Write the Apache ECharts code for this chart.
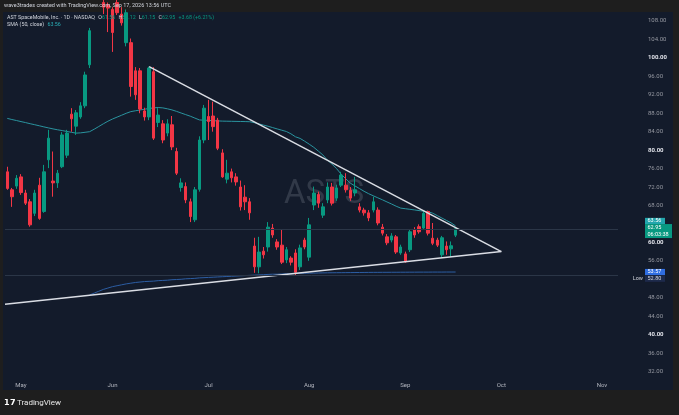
<!DOCTYPE html>
<html><head><meta charset="utf-8">
<script src="https://cdn.jsdelivr.net/npm/echarts@6/dist/echarts.min.js"></script>
<style>html,body{margin:0;padding:0;background:#1e1e1e;}#c{width:679px;height:415px;}</style>
</head><body><div id="c"></div>
<script>
// ---- data ----
const dates = ['04-28','04-29','04-30',
'05-01','05-04','05-05','05-06','05-07','05-08','05-11','05-12','05-13','05-14','05-15','05-18','05-19','05-20','05-21','05-22','05-26','05-27','05-28','05-29',
'06-01','06-02','06-03','06-04','06-05','06-08','06-09','06-10','06-11','06-12','06-15','06-16','06-17','06-18','06-22','06-23','06-24','06-25','06-26','06-29','06-30',
'07-01','07-02','07-06','07-07','07-08','07-09','07-10','07-13','07-14','07-15','07-16','07-17','07-20','07-21','07-22','07-23','07-24','07-27','07-28','07-29','07-30','07-31',
'08-03','08-04','08-05','08-06','08-07','08-10','08-11','08-12','08-13','08-14','08-17','08-18','08-19','08-20','08-21','08-24','08-25','08-26','08-27','08-28','08-31',
'09-01','09-02','09-03','09-04','09-08','09-09','09-10','09-11','09-14','09-15','09-16','09-17','09-18','09-21','09-22','09-23','09-24','09-25','09-28','09-29','09-30',
'10-01','10-02','10-05','10-06','10-07','10-08','10-09','10-12','10-13','10-14','10-15','10-16','10-19','10-20','10-21','10-22','10-23','10-26','10-27','10-28','10-29','10-30',
'11-02','11-03','11-04','11-05'];
const monthNames = ['Jan','Feb','Mar','Apr','May','Jun','Jul','Aug','Sep','Oct','Nov','Dec'];

const opens = [75.3,71.4,72.2,74.2,70.7,68.8,66.3,72.4,66.7,77.9, 73.3,72.9,76.4,78.9,87.8,85.2,87.2,89.6,98.5,111.0, 113.5,112.0,111.5,110.5,112.0,109.5,103.3,103.3,97.2,97.2, 88.5,87.2,97.0,86.0,85.7,83.7,85.5,79.7,71.9,72.1, 68.8,64.9,71.5,82.2,87.3,87.4,86.5,79.4,73.7,75.3, 74.2,72.0,69.8,68.8,59.2,54.7,58.1,59.0,63.1,60.1, 59.4,56.2,56.6,57.7,54.7,60.5,56.8,68.1,70.4,65.9, 69.2,72.0,69.6,72.4,72.4,71.3,70.7,67.7,67.0,66.4, 67.0,67.0,63.3,61.2,60.5,61.2,57.7,57.5,58.4,62.7, 63.4,63.1,66.7,60.9,60.5,57.3,59.2,58.6,61.56];
const highs = [76.4,71.8,74.6,74.8,71.4,69.4,71.4,74.0,76.8,84.4, 79.7,75.7,83.9,84.4,89.1,88.7,90.4,97.0,106.5,115.0, 116.0,114.0,112.0,111.0,113.0,111.0,110.5,104.2,98.0,97.8, 89.2,98.1,98.0,89.1,86.5,86.7,87.4,80.5,73.9,73.0, 69.5,72.0,83.0,89.8,90.9,90.5,87.0,80.2,77.9,76.0, 75.0,73.4,72.4,69.6,61.0,61.2,59.0,64.4,64.0,60.7, 62.7,59.0,57.0,58.5,59.5,61.0,65.3,72.1,71.0,68.5, 73.0,72.9,72.5,75.3,75.0,72.0,74.2,68.5,67.5,67.0, 69.9,67.6,64.0,61.8,62.0,61.6,59.5,58.0,62.8,63.3, 63.9,66.8,66.9,64.2,61.0,61.4,60.2,60.2,63.12];
const lows = [71.4,67.7,71.6,70.3,68.1,63.4,65.7,64.9,66.4,76.1, 69.9,71.8,76.1,78.3,84.0,83.3,86.8,89.1,97.8,110.5, 111.0,109.5,105.6,101.3,109.3,107.0,102.5,91.6,90.9,88.0, 86.4,86.5,82.2,85.0,81.5,83.0,80.0,74.6,71.0,68.5, 64.4,64.4,71.0,81.5,82.2,84.0,80.0,74.0,72.8,73.0, 72.3,66.9,67.0,64.9,53.4,53.3,56.5,58.0,61.0,58.4, 55.3,55.5,55.0,52.8,54.0,58.5,56.0,67.0,67.5,65.3, 68.5,68.0,69.0,72.0,70.8,69.0,70.0,66.5,65.8,64.6, 66.5,63.7,61.5,59.4,60.0,57.5,57.3,55.6,57.9,61.0, 61.9,62.7,61.5,59.4,59.0,56.8,57.3,56.9,61.15];
const closes = [71.7,69.9,73.9,70.8,68.5,63.8,70.7,65.2,75.3,82.6, 72.9,75.0,83.3,83.7,86.8,88.1,89.6,96.3,105.9,113.5, 112.0,111.0,110.8,105.5,109.8,107.6,109.8,93.8,92.0,88.9, 87.2,97.8,82.6,87.6,82.2,85.7,80.7,75.0,72.9,69.2, 65.6,71.4,82.2,89.1,86.2,85.1,80.4,74.2,75.0,74.0, 73.1,67.7,68.8,66.4,54.7,57.9,57.3,63.3,61.6,59.0, 55.7,58.4,55.7,53.5,58.8,59.0,63.8,70.7,68.5,67.7, 72.0,68.5,71.8,74.6,71.4,69.6,71.4,67.0,66.4,65.3, 68.8,64.2,62.0,59.9,61.4,57.9,59.0,55.8,62.3,61.6, 62.3,66.3,62.0,59.8,59.4,61.0,58.4,59.27,62.95];

const sma50 = [86.88,86.64,86.42,86.19,85.97,85.73,85.51,85.28,85.04,84.82, 84.60,84.41,84.24,84.06,83.87,83.69,83.74,83.87,84.00,84.54, 85.12,85.71,86.27,86.75,87.16,87.57,87.99,88.35,88.53,88.70, 88.87,89.03,89.16,89.24,89.16,88.96,88.72,88.40,88.05,87.70, 87.36,86.95,86.55,86.49,86.45,86.38,86.34,86.29,86.27,86.25, 86.23,86.21,86.19,86.16,85.95,85.69,85.43,85.18,84.89,84.60, 84.32,84.04,83.54,82.89,82.54,81.94,81.29,80.61,79.79,78.94, 77.82,76.94,75.97,74.76,73.78,72.83,72.24,71.66,71.07,70.55, 70.10,69.66,69.23,68.77,68.32,67.84,67.43,67.30,67.17,67.04, 66.89,66.76,66.63,66.33,65.80,65.28,64.76,64.24,63.56];
const sma200Start = 18;
const sma200 = [48.6,49.0,49.4,49.8,50.1,50.4,50.6,50.8,51.0,51.15, 51.3,51.4,51.5,51.55,51.6,51.7,51.75,51.8,51.9,51.95, 52.0,52.1,52.15,52.2,52.3,52.35,52.4,52.45,52.5,52.55, 52.6,52.65,52.7,52.75,52.8,52.85,52.9,52.95,53.0,53.05, 53.1,53.1,53.15,53.2,53.2,53.25,53.3,53.3,53.32,53.34, 53.36,53.38,53.4,53.41,53.42,53.43,53.44,53.45,53.46,53.47, 53.48,53.49,53.5,53.5,53.51,53.51,53.52,53.52,53.53,53.53, 53.54,53.54,53.55,53.55,53.55,53.56,53.56,53.56,53.57,53.57, 53.57];

// trend lines: [bar index, price]
const upperTrend = [[31, 98.1], [108, 58.0]];
const lowerTrend = [[-0.5, 46.6], [108, 58.0]];

const priceTicks = [108,104,100,96,92,88,84,80,76,72,68,60,56,48,44,40,36,32];
const lastClose = 62.95, smaLast = 63.56, sma200Last = 53.57, lowVisible = 52.80;
const countdown = '06:03:38';

// ---- chart ----
const UP = '#089981', DOWN = '#f23645';
const chart = echarts.init(document.getElementById('c'));
const candleData = opens.map((o, i) => [o, closes[i], lows[i], highs[i]]);
const sma200Data = dates.map((d, i) => (i >= sma200Start && i - sma200Start < sma200.length) ? sma200[i - sma200Start] : null);
const FONT = 'Roboto';

const option = {
  animation: false,
  backgroundColor: '#1e1e1e',
  grid: { left: 5, right: 61, top: 12, bottom: 38, containLabel: false },
  xAxis: [{
    type: 'category', data: dates, boundaryGap: true,
    axisLine: { show: false }, axisTick: { show: false }, splitLine: { show: false },
    axisLabel: {
      interval: (i) => i > 0 && dates[i].slice(0, 2) !== dates[i - 1].slice(0, 2),
      formatter: (v) => monthNames[parseInt(v.slice(0, 2), 10) - 1],
      color: '#b2b5be', fontSize: 6, fontFamily: FONT, margin: 5
    }
  }, {
    type: 'value', min: -0.5, max: dates.length - 0.5, show: false
  }],
  yAxis: [{
    type: 'value', position: 'right', min: 30.81, max: 109.95, scale: true,
    axisLine: { show: false }, axisTick: { show: false }, splitLine: { show: false },
    axisLabel: {
      customValues: priceTicks, margin: 30, fontSize: 6, fontFamily: FONT, color: '#9598a1',
      formatter: (v) => (v % 20 === 0 ? '{b|' + v.toFixed(2) + '}' : v.toFixed(2)),
      rich: { b: { fontWeight: 'bold', color: '#e1e3ea', fontSize: 6, fontFamily: FONT } }
    }
  }],
  series: [
    {
      type: 'line', data: sma200Data, showSymbol: false, z: 2,
      lineStyle: { color: '#2c5da3', width: 1 }, silent: true
    },
    {
      type: 'line', data: sma50, showSymbol: false, z: 2,
      lineStyle: { color: '#2a949f', width: 1 }, silent: true
    },
    {
      type: 'candlestick', data: candleData, barWidth: 3, clip: true, z: 3,
      itemStyle: { color: UP, color0: DOWN, borderColor: UP, borderColor0: DOWN, borderWidth: 1 },
      markLine: {
        symbol: 'none', silent: true, label: { show: false },
        lineStyle: { color: '#2b3647', type: 'solid', width: 1 },
        data: [{ yAxis: lastClose }, { yAxis: lowVisible }]
      }
    },
    {
      type: 'line', xAxisIndex: 1, data: upperTrend, showSymbol: false, z: 4,
      lineStyle: { color: '#dadde4', width: 1.5 }, silent: true
    },
    {
      type: 'line', xAxisIndex: 1, data: lowerTrend, showSymbol: false, z: 4,
      lineStyle: { color: '#dadde4', width: 1.5 }, silent: true
    }
  ]
};
chart.setOption(option);

const yp = (v) => chart.convertToPixel({ yAxisIndex: 0 }, v);
const bx = 645, bw = 20, bh = 6.2;
const tealC = yp(smaLast) - 5;
const greenTop = tealC + bh / 2;
const blueC = yp(sma200Last);
const lowTop = Math.max(yp(lowVisible) - bh / 2, blueC + bh / 2 + 0.5);
function tx(x, y, text, fill, size, align, weight) {
  return { type: 'text', x: x, y: y, z: 10, silent: true,
    style: { text: text, fill: fill, font: (weight || 'normal') + ' ' + size + 'px ' + FONT,
      align: align || 'left', verticalAlign: 'middle', textAlign: align || 'left', textVerticalAlign: 'middle' } };
}
chart.setOption({
  graphic: [
    { type: 'rect', shape: { x: 3, y: 12, width: 670, height: 378 }, style: { fill: '#131b2b' }, z: -10, silent: true },
    tx(4, 6, 'wave3trades created with TradingView.com, Sep 17, 2026 13:56 UTC', '#d1d4dc', 5.5),
    { type: 'text', x: 7, y: 17.5, z: 10, silent: true, style: {
      text: '{t|AST SpaceMobile, Inc. · 1D · NASDAQ} {t|O}{g|61.56} {t|H}{g|63.12} {t|L}{g|61.15} {t|C}{g|' + lastClose.toFixed(2) + '} {g|+3.68 (+6.21%)}',
      verticalAlign: 'middle', textVerticalAlign: 'middle',
      rich: { t: { fill: '#d1d4dc', fontSize: 5.3, fontFamily: FONT }, g: { fill: UP, fontSize: 5.3, fontFamily: FONT } } } },
    { type: 'text', x: 7, y: 24.5, z: 10, silent: true, style: {
      text: '{t|SMA (50, close)} {c|' + smaLast.toFixed(2) + '}',
      verticalAlign: 'middle', textVerticalAlign: 'middle',
      rich: { t: { fill: '#d1d4dc', fontSize: 5.3, fontFamily: FONT }, c: { fill: '#2ab0b8', fontSize: 5.3, fontFamily: FONT } } } },
    { type: 'text', x: 324, y: 195, z: 0, silent: true, style: { text: 'ASTS', fill: 'rgba(140,146,158,0.25)', font: '33px ' + FONT,
      align: 'center', verticalAlign: 'middle', textAlign: 'center', textVerticalAlign: 'middle' } },
    // price labels
    { type: 'rect', z: 10, silent: true, shape: { x: bx, y: tealC - bh / 2, width: bw, height: bh }, style: { fill: '#22a6ad' } },
    tx(bx + 2.5, tealC, smaLast.toFixed(2), '#ffffff', 5.5),
    { type: 'rect', z: 10, silent: true, shape: { x: bx, y: greenTop, width: 27, height: 14 }, style: { fill: UP } },
    tx(bx + 2.5, greenTop + 4, lastClose.toFixed(2), '#ffffff', 5.5),
    tx(bx + 2.5, greenTop + 10.5, countdown, '#ffffff', 5.5),
    { type: 'rect', z: 10, silent: true, shape: { x: bx, y: blueC - bh / 2, width: bw, height: bh }, style: { fill: '#2f6de0' } },
    tx(bx + 2.5, blueC, sma200Last.toFixed(2), '#ffffff', 5.5),
    { type: 'rect', z: 10, silent: true, shape: { x: bx, y: lowTop, width: bw, height: bh }, style: { fill: '#1d2a4b' } },
    tx(bx + 2.5, lowTop + bh / 2, lowVisible.toFixed(2), '#d1d4dc', 5.5),
    tx(643, lowTop + bh / 2, 'Low', '#d1d4dc', 5.5, 'right'),
    // footer logo
    tx(4, 403, '𝟭𝟳', '#ffffff', 8, 'left', 'bold'),
    tx(17, 403, 'TradingView', '#e6e6e6', 8)
  ]
});
</script>
</body></html>
